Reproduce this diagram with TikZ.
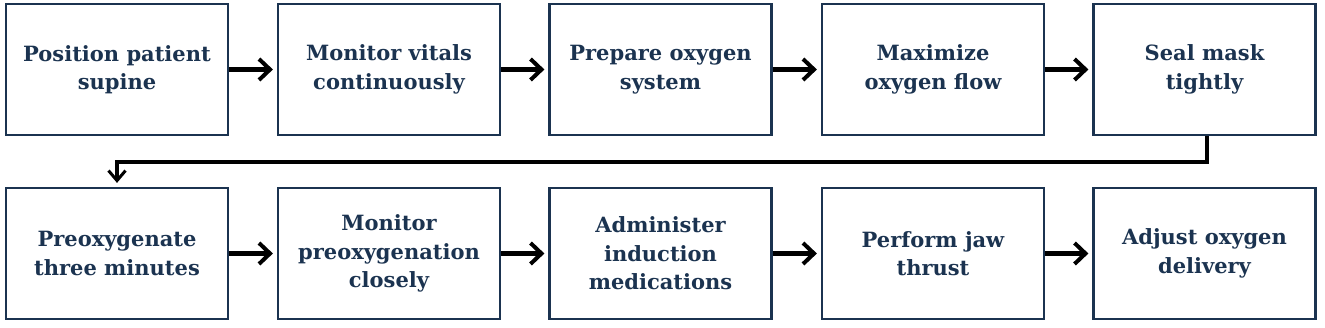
\documentclass[tikz,border=0pt]{standalone}
\usepackage{fontspec}
\setmainfont{DejaVu Serif}
\usetikzlibrary{arrows.meta}
\definecolor{navy}{HTML}{1B3350}
\tikzset{
  stepbox/.style={draw=navy, line width=2.2pt, minimum width=222pt, minimum height=131pt,
    align=center, text=navy, font=\bfseries\fontsize{21}{28.5}\selectfont, inner sep=0pt},
  flow/.style={line width=4.5pt, shorten >=4pt, -{Straight Barb[length=11pt,width=21pt,line width=4pt]}},
  elbow/.style={line width=3.5pt, shorten >=4pt, -{Straight Barb[length=10pt,width=17pt,line width=3pt]}}
}
\begin{document}
\begin{tikzpicture}[x=1pt,y=-1pt]
\useasboundingbox (0,0) rectangle (1325,328);
\node[stepbox] (a1) at (117,69.5) {Position patient\\supine};
\node[stepbox] (a2) at (389,69.5) {Monitor vitals\\continuously};
\node[stepbox] (a3) at (660.5,69.5) {Prepare oxygen\\system};
\node[stepbox] (a4) at (933,69.5) {Maximize\\oxygen flow};
\node[stepbox] (a5) at (1204.5,69.5) {Seal mask\\tightly};
\node[stepbox] (b1) at (117,253.5) {Preoxygenate\\three minutes};
\node[stepbox] (b2) at (389,253.5) {Monitor\\preoxygenation\\closely};
\node[stepbox] (b3) at (660.5,253.5) {Administer\\induction\\medications};
\node[stepbox] (b4) at (933,253.5) {Perform jaw\\thrust};
\node[stepbox] (b5) at (1204.5,253.5) {Adjust oxygen\\delivery};
\draw[flow] (a1) -- (a2);
\draw[flow] (a2) -- (a3);
\draw[flow] (a3) -- (a4);
\draw[flow] (a4) -- (a5);
\draw[flow] (b1) -- (b2);
\draw[flow] (b2) -- (b3);
\draw[flow] (b3) -- (b4);
\draw[flow] (b4) -- (b5);
\coordinate (c1) at (1207,162);
\coordinate (c2) at (117,162);
\draw[elbow] (a5.south -| c1) -- (c1) -- (c2) -- (b1.north);
\end{tikzpicture}
\end{document}
